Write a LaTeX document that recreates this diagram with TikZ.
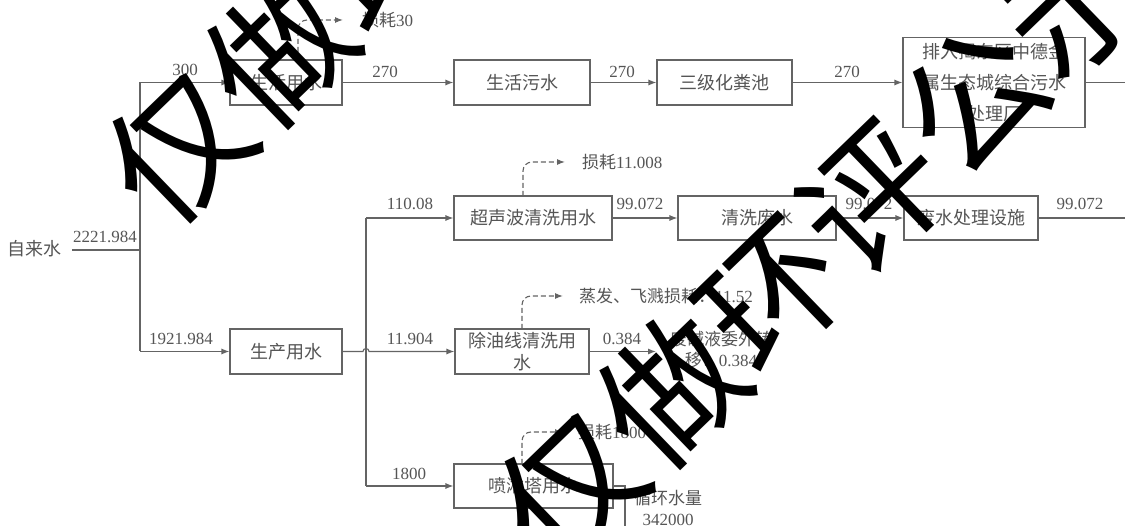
\documentclass[tikz,border=0pt]{standalone}
\usepackage{fontspec}
\setmainfont{Liberation Serif}
\newfontfamily\cjk{Noto Sans CJK SC}
\usetikzlibrary{arrows.meta}
\definecolor{lncol}{RGB}{100,100,100}
\definecolor{txcol}{RGB}{85,85,85}
\begin{document}
\begin{tikzpicture}[x=1pt,y=-1pt,
  box/.style={draw=lncol, line width=1.1pt, text=txcol, font=\cjk\fontsize{18}{22}\selectfont, inner sep=0pt, align=center},
  lbl/.style={text=txcol, font=\fontsize{17}{20}\selectfont, inner sep=0pt, align=center},
  wire/.style={draw=lncol, line width=1.1pt},
  flow/.style={draw=lncol, line width=1.1pt, -{Latex[length=8pt,width=6pt]}},
  loss/.style={draw=lncol, line width=1.1pt, dash pattern=on 5pt off 3pt, rounded corners=9pt, -{Latex[length=8pt,width=6pt]}},
  wmark/.style={text=black, font=\cjk\fontsize{140}{140}\selectfont, inner sep=0pt, rotate=44}]
\useasboundingbox (0,0) rectangle (1125,526);
\clip (0,0) rectangle (1125,526);
\fill[white] (0,0) rectangle (1125,526);

% boxes
\node[box, minimum width=112pt, minimum height=45pt] (shyy) at (286,82.5) {生活用水};
\node[box, minimum width=136pt, minimum height=45pt] (shws) at (522,82.5) {生活污水};
\node[box, minimum width=135pt, minimum height=45pt] (sjhfc) at (724.5,82.5) {三级化粪池};
\node[box, minimum width=182pt, minimum height=90pt, font=\cjk\fontsize{18}{31}\selectfont] (pr) at (994,82.5) {排入揭东区中德金\\属生态城综合污水\\处理厂};
\node[box, minimum width=158pt, minimum height=44pt] (csb) at (533,218) {超声波清洗用水};
\node[box, minimum width=158pt, minimum height=44pt] (qxfs) at (757,218) {清洗废水};
\node[box, minimum width=134pt, minimum height=44pt] (fscl) at (971,218) {废水处理设施};
\node[box, minimum width=112pt, minimum height=45pt] (scys) at (286,351.5) {生产用水};
\node[box, minimum width=134pt, minimum height=45pt] (cyx) at (522,351.5) {除油线清洗用\\水};
\node[box, minimum width=159pt, minimum height=44pt] (pl) at (533.5,486) {喷淋塔用水};

% source
\node[lbl, font=\cjk\fontsize{18}{22}\selectfont] (zls) at (35,249) {自来水};
\coordinate (zl0) at (72,250);
\coordinate (jt) at (140,82.5);
\coordinate (jm) at (140,250);
\coordinate (jb) at (140,351.5);
\draw[wire] (zl0) -- (jm);
\draw[wire] (jt) -- (jb);
\draw[flow] (jt) -- (shyy.west);
\draw[flow] (jb) -- (scys.west);

% top row
\draw[flow] (shyy) -- (shws);
\draw[flow] (shws) -- (sjhfc);
\draw[flow] (sjhfc) -- (pr);
\coordinate (pre) at (1125,82.5);
\draw[wire] (pr.east) -- (pre);

% middle branch line
\coordinate (vt) at (366,218);
\coordinate (vb) at (366,486);
\draw[wire] (vt) -- (vb);
\draw[flow] (vt) -- (csb.west);
\draw[flow] (vb) -- (pl.west);
\draw[flow] (csb) -- (qxfs);
\draw[flow] (qxfs) -- (fscl);
\coordinate (fre) at (1125,218);
\draw[wire] (fscl.east) -- (fre);
\draw[flow] (scys.east) -- (363,351.5) arc[start angle=180, end angle=360, radius=3] -- (cyx.west);
\coordinate (jl) at (656,351.5);
\draw[flow] (cyx.east) -- (jl);

% recycle loop
\coordinate (rc1) at (625,486);
\coordinate (rc2) at (625,526);
\draw[wire] (pl.east) -- (rc1) -- (rc2);

% loss arrows
\coordinate (a1) at (343,20);
\coordinate (a2) at (565,162);
\coordinate (a3) at (563,296);
\coordinate (a4) at (563,432);
\draw[loss] (298,60) |- (a1);
\draw[loss] (523,196) |- (a2);
\draw[loss] (522,329) |- (a3);
\draw[loss] (522,464) |- (a4);

% labels
\node[lbl] (n1) at (105,237) {2221.984};
\node[lbl] (n2) at (185,70) {300};
\node[lbl] (n3) at (385,72) {270};
\node[lbl] (n4) at (622,72) {270};
\node[lbl] (n5) at (847,72) {270};
\node[lbl, anchor=west] (n6) at (362,20) {{\cjk 损耗}30};
\node[lbl] (n7) at (410,204) {110.08};
\node[lbl, anchor=west] (n8) at (582,162) {{\cjk 损耗}11.008};
\node[lbl] (n9) at (640,204) {99.072};
\node[lbl] (n10) at (869,204) {99.072};
\node[lbl] (n11) at (1080,204) {99.072};
\node[lbl] (n12) at (181,339) {1921.984};
\node[lbl] (n13) at (410,339) {11.904};
\node[lbl, anchor=west] (n14) at (579,296) {{\cjk 蒸发、飞溅损耗：}11.52};
\node[lbl] (n15) at (622,339) {0.384};
\node[lbl, font=\fontsize{17}{21}\selectfont] (n16) at (721,350) {{\cjk 废碱液委外转}\\{\cjk 移：}0.384};
\node[lbl] (n17) at (409,474) {1800};
\node[lbl, anchor=west] (n18) at (578,432) {{\cjk 损耗}1800};
\node[lbl, font=\fontsize{17}{21}\selectfont] (n19) at (668,508) {{\cjk 循环水量}\\342000};

% watermark
\node[wmark] (wm1) at (430,-95) {仅做环评公示};
\node[wmark] (wm2) at (822,245) {仅做环评公示};
\end{tikzpicture}
\end{document}
